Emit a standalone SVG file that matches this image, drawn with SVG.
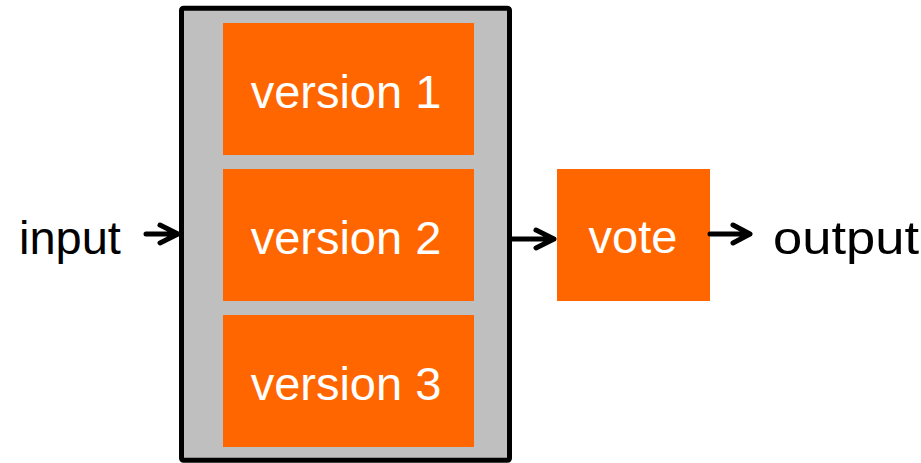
<svg xmlns="http://www.w3.org/2000/svg" width="921" height="463" viewBox="0 0 921 463">
  <defs>
    <style>
      .label { font-family: "Liberation Sans", Arial, sans-serif; font-size: 47px; }
      .box { fill: #FF6600; }
      .inbox { fill: #FFFFFF; text-anchor: middle; }
      .outside { fill: #000000; }
      .conn { fill: none; stroke: #000000; stroke-width: 5; stroke-linecap: round; stroke-linejoin: round; }
    </style>
  </defs>
  <rect width="921" height="463" fill="#FFFFFF"/>

  <!-- redundant block containing the three versions -->
  <g id="redundant-block">
    <rect x="181.5" y="8.2" width="328" height="452" rx="2" fill="#BFBFBF" stroke="#000000" stroke-width="5"/>
  </g>

  <g id="version1">
    <rect class="box" x="223" y="23" width="251" height="132"/>
    <text class="label inbox" x="346" y="108">version 1</text>
  </g>
  <g id="version2">
    <rect class="box" x="223" y="169" width="251" height="132"/>
    <text class="label inbox" x="346" y="254">version 2</text>
  </g>
  <g id="version3">
    <rect class="box" x="223" y="315" width="251" height="132"/>
    <text class="label inbox" x="346" y="400">version 3</text>
  </g>

  <g id="vote">
    <rect class="box" x="557" y="169" width="153" height="132"/>
    <text class="label inbox" x="633" y="253">vote</text>
  </g>

  <g id="input">
    <text class="label outside" x="19" y="254">input</text>
  </g>
  <g id="output">
    <text class="label outside" x="773" y="254" textLength="146" lengthAdjust="spacingAndGlyphs">output</text>
  </g>

  <!-- connectors -->
  <g id="connectors">
    <path class="conn" d="M146 234 H178 M160 225 L178 234 L160 243"/>
    <path class="conn" d="M512 239 H554 M536 230 L554 239 L536 248"/>
    <path class="conn" d="M710 234 H750 M733 225 L750 234 L733 243"/>
  </g>
</svg>
